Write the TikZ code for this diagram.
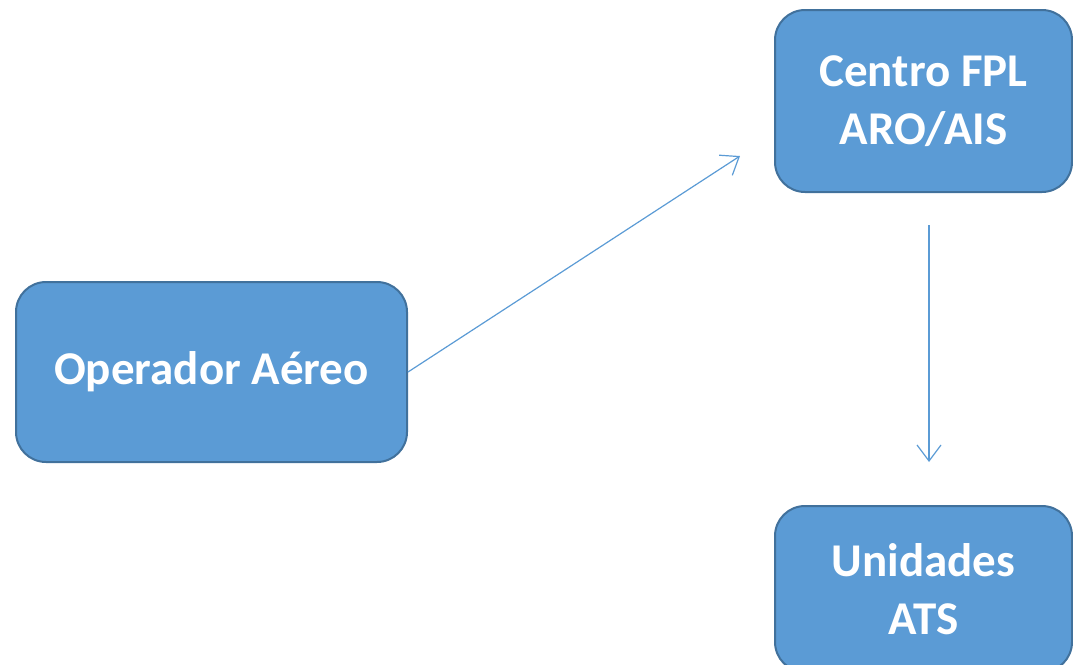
\documentclass[tikz,border=0pt]{standalone}
\usepackage{fontspec}
\setmainfont{Carlito}
\usepackage{tikz}
\usetikzlibrary{arrows.meta,shapes,arrows}
\definecolor{boxfill}{HTML}{5B9BD5}
\definecolor{boxline}{HTML}{41719C}

\begin{document}
\begin{tikzpicture}[x=1pt,y=-1pt]
      \useasboundingbox (0,0) rectangle (1073,664);
      \begin{scope}[every node/.style={rectangle,rounded corners=30pt,draw=boxline,line width=2pt,
          fill=boxfill,text=white,align=center,inner sep=0pt,
          font=\fontsize{47}{58}\selectfont\bfseries}]
        \node[minimum width=391pt,minimum height=180pt] (op)   at (211.5,372) {Operador Aéreo};
        \node[minimum width=297pt,minimum height=182pt] (fpl)  at (923.5,101) {Centro FPL\\ARO/AIS};
        \node[minimum width=297pt,minimum height=166pt] (ats)  at (923.5,589) {Unidades\\ATS};
      \end{scope}
      \coordinate (fplin)  at (740,156);
      \coordinate (fplout) at (929,225);
      \coordinate (atsin)  at (929,462);
      \begin{scope}[>={Straight Barb[length=16pt,width=24pt]},every edge/.style={draw=boxfill,line width=1.2pt}]
        \path (op.east) edge[->] (fplin);
        \path (fplout)  edge[->] (atsin);
      \end{scope}
    \end{tikzpicture}
\end{document}
